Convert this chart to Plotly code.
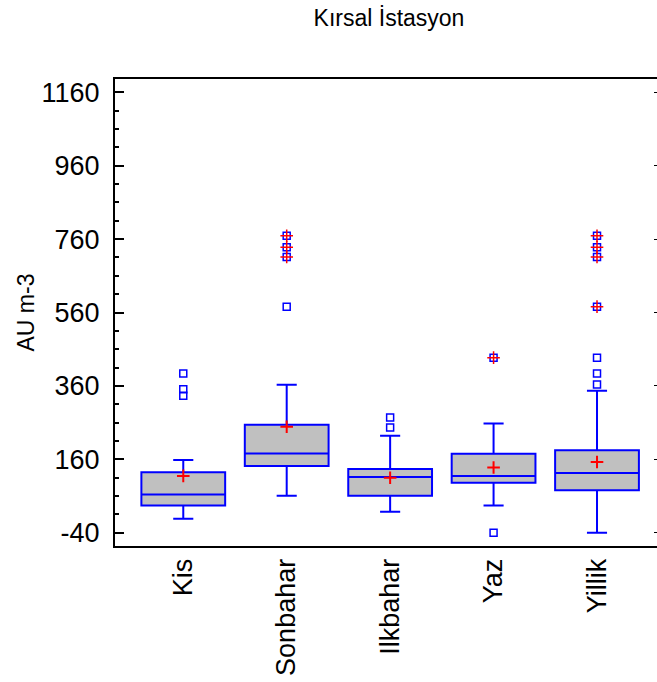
import plotly.graph_objects as go

# categories and box statistics
mevsimler = ['Kis', 'Sonbahar', 'Ilkbahar', 'Yaz', 'Yillik']
q1 = [34, 142, 61, 96, 76]
medyan = [64, 176, 112, 115, 123]
q3 = [125, 254, 134, 175, 185]
alt_biyik = [-2, 61, 17, 34, -40]
ust_biyik = [158, 363, 224, 258, 347]
ortalama = [115, 249, 110, 138, 153]

# outliers (squares) and far outliers (squares with a red plus)
aykiri = {
    'Kis': [394, 351, 333],
    'Sonbahar': [576],
    'Ilkbahar': [274, 247],
    'Yaz': [-40],
    'Yillik': [364, 394, 437],
}
uc_aykiri = {
    'Kis': [],
    'Sonbahar': [711, 738, 769],
    'Ilkbahar': [],
    'Yaz': [437],
    'Yillik': [576, 711, 738, 769],
}

y_tikler = [-40, 160, 360, 560, 760, 960, 1160]
y_etiketler = ['-40', '160', '360', '560', '760', '960', '1160']

MAVI = '#0000ff'
KIRMIZI = '#ff0000'

fig = go.Figure()

fig.add_trace(go.Box(
    x=mevsimler,
    q1=q1, median=medyan, q3=q3,
    lowerfence=alt_biyik, upperfence=ust_biyik,
    boxpoints=False,
    fillcolor='#c0c0c0',
    line=dict(color=MAVI, width=2),
    width=0.81,
    whiskerwidth=0.24,
    showlegend=False,
))

ax, ay = [], []
for m in mevsimler:
    for v in aykiri[m] + uc_aykiri[m]:
        ax.append(m)
        ay.append(v)
fig.add_trace(go.Scatter(
    x=ax, y=ay, mode='markers', showlegend=False,
    marker=dict(symbol='square-open', size=7, color=MAVI,
                line=dict(width=1.5, color=MAVI)),
))

ux, uy = [], []
for m in mevsimler:
    for v in uc_aykiri[m]:
        ux.append(m)
        uy.append(v)
fig.add_trace(go.Scatter(
    x=ux, y=uy, mode='markers', showlegend=False,
    marker=dict(symbol='cross-thin-open', size=9, color=KIRMIZI,
                line=dict(width=1.5, color=KIRMIZI)),
))

fig.add_trace(go.Scatter(
    x=mevsimler, y=ortalama, mode='markers', showlegend=False,
    marker=dict(symbol='cross-thin-open', size=9, color=KIRMIZI,
                line=dict(width=2, color=KIRMIZI)),
))

yaralik = [-76, 1196]

fig.update_layout(
    width=657, height=682,
    margin=dict(l=115, r=0, t=79, b=136, autoexpand=False),
    paper_bgcolor='white', plot_bgcolor='white',
    font=dict(family='Liberation Sans, Arial', color='black'),
    title=dict(text='Kırsal İstasyon', x=389 / 657, xanchor='center', y=0.974,
               yanchor='middle', font=dict(size=23)),
    xaxis=dict(
        type='category', range=[-0.66, 4.58], automargin=False,
        showline=True, linecolor='black', linewidth=2, mirror=True,
        ticks='', tickangle=-90, tickfont=dict(size=27),
        showgrid=False, zeroline=False,
    ),
    yaxis=dict(
        range=yaralik, automargin=False,
        tickmode='array', tickvals=y_tikler, ticktext=y_etiketler,
        showline=True, linecolor='black', linewidth=2,
        ticks='inside', ticklen=9, tickwidth=1.5, tickcolor='black',
        minor=dict(tickmode='linear', tick0=-40, dtick=50, ticks='inside',
                   ticklen=4, tickcolor='black'),
        tickfont=dict(size=27), ticklabelstandoff=8,
        title=dict(text='AU m-3', font=dict(size=23), standoff=0),
        showgrid=False, zeroline=False,
    ),
    yaxis2=dict(
        range=yaralik, overlaying='y', side='right', automargin=False,
        tickmode='array', tickvals=y_tikler,
        showline=False, ticks='inside', ticklen=3, tickcolor='black',
        showticklabels=False, showgrid=False, zeroline=False,
    ),
)

# invisible trace to make the right axis appear
fig.add_trace(go.Scatter(x=[mevsimler[0]], y=[ortalama[0]], yaxis='y2',
                         mode='markers', marker=dict(opacity=0),
                         showlegend=False, hoverinfo='skip'))

fig.write_html('out.html', config={'displayModeBar': False},
               post_script="document.body.style.margin='0';"
                           "document.body.style.overflow='hidden';")
